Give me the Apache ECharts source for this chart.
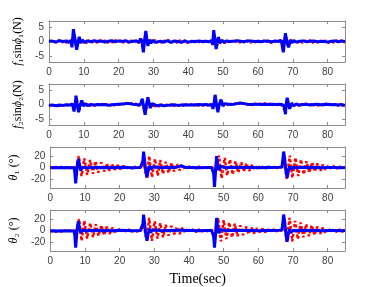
<!DOCTYPE html>
<html><head><meta charset="utf-8">
<script src="https://cdn.jsdelivr.net/npm/echarts@6/dist/echarts.min.js"></script>
<style>html,body{margin:0;padding:0;background:#fff}#c{width:382px;height:287px}</style>
</head><body><div id="c"></div>
<script>
// ---- tick labels ----
const xTickValues = [0, 10, 20, 30, 40, 50, 60, 70, 80];
const forceTickValues = [-5, 0, 5];
const angleTickValues = [-20, 0, 20];
const xLabel = 'Time(sec)';
const yLabels = ['{i|f}₁sin{i|ϕ}₁(N)', '{i|f}₂sin{i|ϕ}₂(N)', '{i|θ}₁ (°)', '{i|θ}₂ (°)'];

// ---- series: [time (s), value] ----
const f1Red = [[0,0],[0.5,-0.4],[1.2,0.3],[2,-0.3],[2.8,0.4],[3.5,-0.5],[4.3,0.2],[5,-0.4],[5.8,0.3],[6.4,-0.6],[6.8,1.5],[7.2,2.5],[7.6,-1.0],[8.0,-1.8],[8.5,0.8],[9.0,0.5],[9.5,-0.8],[10.2,0.5],[10.8,-0.6],[11.5,0.4],[12.2,-0.5],[13,0.3],[13.8,-0.4],[14.5,0.4],[15.3,-0.3],[16,0.3],[16.8,-0.4],[17.5,0.3],[18.3,-0.3],[19,0.5],[19.8,-0.3],[20.5,0.3],[21.3,-0.4],[22,0.4],[22.8,-0.3],[23.5,0.3],[24.3,-0.4],[25,0.3],[25.8,-0.5],[26.5,0.8],[27.0,-2.5],[27.5,1],[27.9,2.5],[28.3,-0.8],[28.8,-1.2],[29.3,0.6],[29.8,-0.5],[30.4,0.5],[31,-0.4],[31.7,0.4],[32.4,-0.5],[33,0.3],[33.8,-0.4],[34.5,0.5],[35.2,-0.3],[36,0.3],[36.8,-0.4],[37.5,0.4],[38.3,-0.3],[39,0.3],[39.8,-0.5],[40.5,0.3],[41.3,-0.4],[42,0.3],[42.8,-0.5],[43.5,0.3],[44.3,-0.3],[45,0.4],[45.8,-0.4],[46.5,0.3],[47.0,-1.2],[47.4,3.0],[47.8,-0.5],[48.2,-2.0],[48.7,1.0],[49.2,-0.7],[49.8,0.5],[50.4,-0.6],[51,0.4],[51.8,-0.4],[52.5,0.3],[53.3,-0.4],[54,0.4],[54.8,-0.3],[55.5,0.3],[56.3,-0.5],[57,0.3],[57.8,-0.4],[58.5,0.3],[59.3,-0.3],[60,0.4],[60.8,-0.4],[61.5,0.3],[62.3,-0.3],[63,0.3],[63.8,-0.5],[64.5,0.3],[65.3,-0.4],[66,0.3],[66.7,0.6],[67.2,-2.8],[67.6,0.5],[68.0,2.0],[68.5,-0.6],[68.9,-1.5],[69.4,0.6],[70,-0.5],[70.7,0.4],[71.4,-0.4],[72,0.3],[72.8,-0.4],[73.5,0.3],[74.3,-0.3],[75,0.4],[75.8,-0.4],[76.5,0.3],[77.3,-0.3],[78,0.3],[78.8,-0.5],[79.5,0.3],[80.3,-0.4],[81,0.3],[81.8,-0.4],[82.5,0.4],[83.3,-0.3],[84,0.3],[85,-0.4]];
const f1Blue = [[0,0.2],[1,0.1],[2,-0.2],[3,0.3],[4,0],[5,0.2],[5.8,-0.3],[6.3,0.4],[6.6,-2.0],[7.0,4.2],[7.5,0.5],[7.95,-2.8],[8.4,0.2],[8.7,1.6],[9.1,-0.5],[9.6,0.5],[10.2,-0.3],[11,0.2],[12,-0.1],[13,0.3],[14,0],[15,0.2],[16,-0.2],[17,0.1],[18,0.3],[19,-0.1],[20,0.2],[21,0],[22,0.3],[23,-0.2],[24,0.1],[25,0.2],[25.8,-0.3],[26.3,1.0],[26.7,0],[27.1,-3.7],[27.4,0],[27.8,3.6],[28.1,0.5],[28.4,-1.5],[28.8,0.6],[29.3,-0.6],[29.8,0.4],[30.5,-0.3],[31,0.2],[32,0.1],[33,-0.2],[34,0.3],[35,-0.3],[36,0.2],[37,0],[38,-0.3],[39,0.2],[40,-0.2],[41,0.1],[42,-0.1],[43,0.2],[44,0],[45,0.1],[46,-0.1],[46.6,0.3],[47.0,-1.0],[47.3,3.9],[47.65,0.4],[48.0,-2.6],[48.3,0],[48.65,1.5],[49.1,-0.5],[49.6,0.4],[50.2,-0.2],[51,0.2],[52,0],[53,0.1],[54,0.3],[55,0.1],[56,-0.1],[57,0.2],[58,0.2],[59,0],[60,0.1],[61,-0.1],[62,0.2],[63,0.1],[64,-0.1],[65,0.2],[66,0],[66.7,0.4],[67.3,-3.7],[67.6,0],[67.9,2.8],[68.3,-0.3],[68.8,-2.0],[69.2,0.5],[69.7,-0.4],[70.3,0.3],[71,-0.2],[72,0.1],[73,0.2],[74,-0.1],[75,0.1],[76,0.2],[77,-0.1],[78,0],[79,0.1],[80,-0.2],[81,0.1],[82,0.2],[83,-0.1],[84,0.2],[85,0]];
const f2Red = [[0,-0.6],[0.7,0],[1.4,-0.5],[2.1,-0.1],[2.8,-0.6],[3.5,0],[4.2,-0.5],[5,0],[5.7,-0.5],[6.4,0.2],[6.9,-1.0],[7.4,-1.8],[7.9,2.0],[8.3,0.5],[8.7,-1.8],[9.2,-0.2],[9.7,0.8],[10.3,-0.6],[11,0.2],[11.7,-0.5],[12.4,0.2],[13.1,-0.4],[13.8,0.3],[14.5,-0.4],[15.2,0.2],[15.9,-0.3],[16.6,0.1],[17.3,-0.6],[18,0.1],[18.7,-0.3],[19.4,0.3],[20.1,-0.1],[20.8,0.5],[21.5,0],[22.2,0.6],[22.9,0],[23.6,0.5],[24.3,-0.2],[25,0.3],[25.7,-0.4],[26.3,0.2],[26.8,1.2],[27.3,-1.5],[27.8,-2.5],[28.3,1.5],[28.8,0.8],[29.3,-1.2],[29.8,0.2],[30.4,-0.7],[31,0],[31.7,-0.7],[32.4,0],[33.1,-0.6],[33.8,0],[34.5,-0.6],[35.2,0.1],[35.9,-0.5],[36.6,0],[37.3,-0.5],[38,0.1],[38.7,-0.5],[39.4,0.1],[40.1,-0.5],[40.8,0.1],[41.5,-0.5],[42.2,0.2],[42.9,-0.4],[43.6,0.2],[44.3,-0.4],[45,0.2],[45.7,-0.4],[46.4,0.1],[47.0,-0.8],[47.5,1.5],[47.9,2.0],[48.3,-1.2],[48.7,-1.8],[49.2,0.3],[49.7,1.0],[50.2,-0.4],[50.8,0.3],[51.5,-0.4],[52.2,0.3],[52.9,-0.2],[53.6,0.4],[54.3,0],[55,0.8],[55.7,0.2],[56.4,0.5],[57.1,-0.1],[57.8,0.3],[58.5,-0.2],[59.2,0.3],[59.9,-0.2],[60.6,0.3],[61.3,-0.2],[62,0.4],[62.7,-0.2],[63.4,0.3],[64.1,-0.2],[64.8,0.3],[65.5,-0.2],[66.2,0.3],[66.8,-0.3],[67.4,-1.5],[67.8,-2.2],[68.3,1.5],[68.8,0.3],[69.3,-1.0],[69.8,0.5],[70.4,-0.5],[71,0.3],[71.7,-0.5],[72.4,0.2],[73.1,-0.3],[73.8,0.3],[74.5,-0.4],[75.2,0.2],[75.9,-0.3],[76.6,0.3],[77.3,-0.4],[78,0.2],[78.7,-0.3],[79.4,0.3],[80.1,-0.3],[80.8,0.2],[81.5,-0.4],[82.2,0.2],[82.9,-0.4],[83.6,0.1],[84.3,-0.4],[85,-0.1]];
const f2Blue = [[0,-0.3],[1,-0.2],[2,-0.4],[3,-0.2],[4,-0.3],[5,-0.1],[6,-0.2],[6.7,0.2],[7.2,-2.4],[7.5,0],[7.76,3.0],[8.1,0],[8.5,-2.6],[8.9,-0.3],[9.4,1.4],[9.9,-0.5],[10.5,0.3],[11,-0.4],[12,0],[13,-0.2],[14,0],[15,-0.1],[16,0],[17,-0.3],[17.5,-0.6],[18,-0.1],[19,0],[20,0.1],[21,0.2],[22,0.3],[23,0.3],[24,0.1],[25,0],[26,-0.2],[26.4,0.5],[26.8,2.0],[27.2,-1],[27.6,-3.5],[28.0,0],[28.4,2.5],[28.8,0],[29.1,-1.2],[29.6,0.3],[30,-0.3],[31,-0.4],[32,-0.2],[33,-0.4],[34,-0.3],[35,-0.2],[36,-0.1],[37,-0.3],[38,-0.2],[39,-0.1],[40,-0.2],[41,-0.1],[42,-0.2],[43,0],[44,-0.1],[45,0],[46,-0.2],[46.7,0],[47.1,-1.5],[47.4,0.5],[47.7,3.3],[48.1,0],[48.5,-2.6],[48.9,0],[49.4,1.7],[49.9,-0.5],[50.5,0.3],[51,-0.2],[52,0],[53,0.1],[54,0.3],[55,0.5],[56,0.3],[57,0.1],[58,0],[59,0.1],[60,0.1],[61,0],[62,0.1],[63,0],[64,0.1],[65,0],[66,0.1],[66.9,0],[67.5,-0.5],[67.9,-3.3],[68.1,0],[68.4,2.3],[68.8,0],[69.1,-1.5],[69.6,0.4],[70.2,-0.4],[71,0.2],[72,-0.2],[73,0],[74,0.1],[75,-0.2],[76,0],[77,0.1],[78,-0.1],[79,0],[80,0.1],[81,-0.1],[82,0],[83,-0.2],[84,0],[85,-0.3]];
const th1Red = [[0,0],[0.8,-1],[1.6,1],[2.4,-1.5],[3.2,1],[4,-1],[4.8,1],[5.6,-1],[6.4,0.5],[7,0],[7.4,-4],[7.8,8],[8.2,20],[9.0,-15],[9.8,16],[10.6,-13],[11.5,13],[12.3,-11],[13.0,11],[13.8,-9],[14.7,9],[15.5,-7],[16.3,7],[17.1,-6],[17.8,6],[18.6,-4],[19.4,4],[20.2,-3],[21.1,3],[21.9,-2],[22.7,2],[23.5,-2],[24.3,1.5],[25.1,-1.5],[25.9,1],[26.5,0],[27.0,6],[27.8,-18],[28.5,20],[29.3,-17],[30.2,15],[31.0,-14],[31.7,13],[32.5,-11],[33.3,10],[34.1,-9],[35.0,8],[35.7,-7],[36.5,6],[37.3,-5],[38.1,5],[38.9,-4],[39.7,4],[40.5,-3],[41.3,3],[42.1,-2],[42.9,2],[43.7,-2],[44.5,1.5],[45.3,-1],[46.1,1],[46.8,0],[47.4,-6],[47.9,8],[48.65,21],[49.4,-19],[50.3,17],[51.0,-14],[51.8,14],[52.6,-12],[53.4,11],[54.2,-9],[55.1,9],[55.8,-7],[56.6,7],[57.4,-6],[58.2,5],[59.0,-4],[59.9,4],[60.6,-3],[61.4,3],[62.2,-2],[63.0,2],[63.8,-2],[64.6,1.5],[65.4,-1],[66.2,1],[66.8,0],[67.5,8],[68.2,-20],[69.05,21],[69.8,-18],[70.7,17],[71.5,-15],[72.3,14],[73.1,-12],[73.9,11],[74.7,-9],[75.5,9],[76.3,-7],[77.1,7],[77.9,-6],[78.6,5],[79.4,-4],[80.3,4],[81.1,-3],[81.9,3],[82.7,-2],[83.5,2],[84.3,-2],[85,1]];
const th1Blue = [[0,-0.5],[1,0],[2,-0.5],[3,0],[4,-0.5],[5,0],[6,-0.5],[6.8,0],[7.05,-8],[7.3,-28],[7.6,-8],[7.85,8],[8.1,15],[8.45,3],[8.8,-5],[9.2,0],[9.6,-2],[10.1,0.5],[10.7,-1],[11.5,0.5],[12.5,-0.5],[13.5,0.5],[14.5,-0.5],[16,0],[18,-0.5],[20,0.5],[22,0],[24,-0.5],[26,0],[26.5,1],[26.7,12],[26.9,28],[27.2,12],[27.55,-8],[27.9,-17],[28.2,-6],[28.6,3],[29.0,-3],[29.5,1],[30,-1],[31,0.5],[32,-0.5],[33,0],[34,0],[35,0.5],[36,0],[37,1.5],[37.8,3],[38.6,1],[39.5,0],[41,0],[43,-0.5],[45,0],[46.5,0],[46.9,-2],[47.1,-10],[47.35,-34],[47.65,-8],[47.95,20],[48.3,5],[48.6,-5],[49.0,2],[49.5,-1.5],[50,0.5],[51,-0.5],[52,0],[54,0.5],[56,0],[58,0],[60,-0.5],[62,0],[64,0],[66,0.5],[66.8,1],[67.0,10],[67.3,28],[67.6,15],[67.95,-5],[68.3,-18],[68.6,-8],[69.0,2],[69.4,-3],[70.0,0],[71,-0.5],[72,0],[74,0.5],[76,0],[78,-0.5],[80,0],[82,0],[84,-0.5],[85,0]];
const th2Red = [[0,-2],[0.8,0],[1.6,-2.5],[2.4,0],[3.2,-2],[4,0.5],[4.8,-1.5],[5.6,0],[6.4,-1],[7,0],[7.4,-4],[7.8,8],[8.3,20],[9.0,-18],[9.8,17],[10.6,-14],[11.5,13],[12.3,-12],[13.1,11],[13.9,-9],[14.7,9],[15.5,-8],[16.3,7],[17.1,-6],[17.9,5],[18.7,-5],[19.5,4],[20.3,-3],[21.1,3],[21.9,-3],[22.7,2],[23.5,-2],[24.3,1.5],[25.1,-2],[25.9,1],[26.5,0],[27.0,6],[27.8,-17],[28.5,22],[29.3,-18],[30.1,16],[30.9,-14],[31.7,13],[32.5,-12],[33.3,10],[34.1,-9],[34.9,8],[35.7,-7],[36.5,6],[37.3,-6],[38.1,5],[38.9,-4],[39.7,4],[40.5,-3],[41.3,3],[42.1,-3],[42.9,2],[43.7,-2],[44.5,2],[45.3,-1.5],[46.1,1],[46.8,0],[47.4,-6],[47.9,8],[48.4,22],[49.2,-19],[50.0,18],[50.8,-15],[51.6,14],[52.4,-12],[53.2,12],[54.0,-10],[54.8,9],[55.6,-8],[56.4,7],[57.2,-6],[58.0,5],[58.8,-5],[59.6,4],[60.4,-3],[61.2,3],[62.0,-3],[62.8,2],[63.6,-2],[64.4,2],[65.2,-1.5],[66.0,1],[66.8,0],[67.5,8],[68.2,-20],[69.0,22],[69.8,-19],[70.6,17],[71.4,-15],[72.2,14],[73.0,-12],[73.8,11],[74.6,-10],[75.4,9],[76.2,-8],[77.0,7],[77.8,-6],[78.6,5],[79.4,-5],[80.2,4],[81.0,-3],[81.8,3],[82.6,-3],[83.4,2],[84.2,-2],[85,1]];
const th2Blue = [[0,-1],[1,-0.5],[2,-1],[3,-0.5],[4,-1],[5,-0.5],[6,-1],[6.8,-0.5],[7.05,-8],[7.3,-30],[7.6,-8],[7.85,8],[8.1,16],[8.45,3],[8.8,-4],[9.2,0],[9.6,-2],[10.1,0.5],[10.7,-1],[11.5,0.5],[12.5,-0.5],[13.5,0.5],[14.5,-0.5],[16,0],[18,-0.5],[20,0.5],[22,0],[24,-0.5],[26,0],[26.5,1],[26.7,12],[26.9,28],[27.2,12],[27.55,-8],[27.9,-18],[28.2,-6],[28.6,3],[29.0,-3],[29.5,1],[30,-1],[31,0.5],[32,-0.5],[33,0],[34,0],[35,0.5],[36,0],[37,0.5],[38,1],[39,0],[41,0],[43,-0.5],[45,0],[46.5,0],[46.9,-2],[47.1,-10],[47.35,-30],[47.65,-8],[47.95,22],[48.3,5],[48.6,-5],[49.0,2],[49.5,-1.5],[50,0.5],[51,-0.5],[52,0],[54,0.5],[56,0],[58,0],[60,-0.5],[62,0],[64,0],[66,0.5],[66.8,1],[67.0,10],[67.3,28],[67.6,15],[67.95,-5],[68.3,-20],[68.6,-8],[69.0,2],[69.4,-3],[70.0,0],[71,-0.5],[72,0],[74,0.5],[76,0],[78,-0.5],[80,0],[82,0],[84,-0.5],[85,0]];

const panels = [
  { red: f1Red, blue: f1Blue, ticks: forceTickValues, min: -7, max: 7, name: yLabels[0], gap: 16 },
  { red: f2Red, blue: f2Blue, ticks: forceTickValues, min: -7, max: 7, name: yLabels[1], gap: 16 },
  { red: th1Red, blue: th1Blue, ticks: angleTickValues, min: -36, max: 36, name: yLabels[2], gap: 21 },
  { red: th2Red, blue: th2Blue, ticks: angleTickValues, min: -36, max: 36, name: yLabels[3], gap: 21 }
];

const tops = [21, 84, 147, 210];
const boxColor = '#8c8c8c';
const labelColor = '#404040';
const grid = [], xAxis = [], yAxis = [], series = [];
panels.forEach((p, i) => {
  grid.push({ left: 49, width: 296, top: tops[i], height: 41 });
  const line = { show: true, onZero: false, lineStyle: { color: boxColor, width: 1 } };
  const tick = (vals) => ({ show: true, inside: true, length: 3, customValues: vals, lineStyle: { color: boxColor } });
  xAxis.push({
    gridIndex: i, type: 'value', min: 0, max: 85, position: 'bottom',
    axisLine: line, axisTick: tick(xTickValues), splitLine: { show: false },
    axisLabel: { customValues: xTickValues, color: labelColor, fontFamily: 'Liberation Sans', fontSize: 10, margin: 5 },
    name: i === 3 ? xLabel : '', nameLocation: 'middle', nameGap: 21,
    nameTextStyle: { fontFamily: 'Liberation Serif', fontSize: 14, color: '#000' }
  });
  xAxis.push({
    gridIndex: i, type: 'value', min: 0, max: 85, position: 'top',
    axisLine: line, axisTick: tick(xTickValues), splitLine: { show: false }, axisLabel: { show: false }
  });
  yAxis.push({
    gridIndex: i, type: 'value', min: p.min, max: p.max, position: 'left',
    axisLine: line, axisTick: tick(p.ticks), splitLine: { show: false },
    axisLabel: { customValues: p.ticks, color: labelColor, fontFamily: 'Liberation Sans', fontSize: 10, margin: 5 },
    name: p.name, nameLocation: 'middle', nameGap: p.gap,
    nameTextStyle: { fontFamily: 'Liberation Serif', fontSize: 12, color: '#000',
      rich: { i: { fontFamily: 'Liberation Serif', fontStyle: 'italic', fontSize: 12, color: '#000' } } }
  });
  yAxis.push({
    gridIndex: i, type: 'value', min: p.min, max: p.max, position: 'right',
    axisLine: line, axisTick: tick(p.ticks), splitLine: { show: false }, axisLabel: { show: false }
  });
  series.push({
    type: 'line', xAxisIndex: 2 * i, yAxisIndex: 2 * i, data: p.red, showSymbol: false, symbol: 'none',
    lineStyle: { color: '#ff0000', width: 2.5, type: [3, 2] }, animation: false, z: 2
  });
  series.push({
    type: 'line', xAxisIndex: 2 * i, yAxisIndex: 2 * i, data: p.blue, showSymbol: false, symbol: 'none',
    lineStyle: { color: '#0000ff', width: 3 }, animation: false, z: 3
  });
});

const chart = echarts.init(document.getElementById('c'), null, { renderer: 'canvas' });
chart.setOption({ animation: false, backgroundColor: '#fff', grid, xAxis, yAxis, series });
</script></body></html>
